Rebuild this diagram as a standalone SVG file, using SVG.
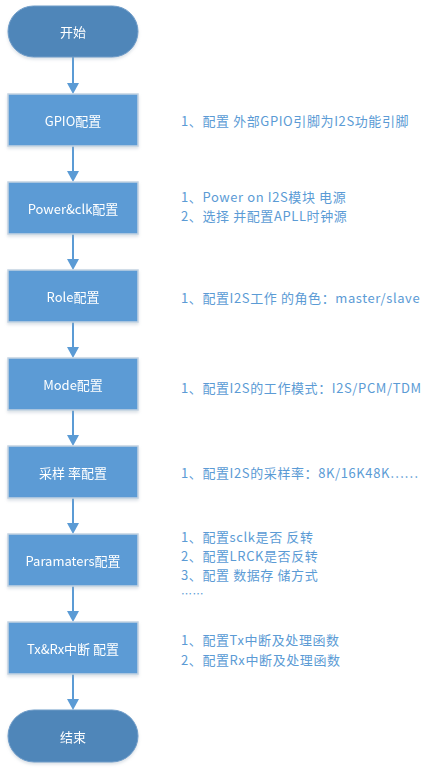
<svg xmlns="http://www.w3.org/2000/svg" width="429" height="776" viewBox="0 0 429 776">
<style>
.term{fill:#4f86b9;stroke:#6f9cc8;stroke-width:1}
.box{fill:#5b9bd5;stroke:#c4d3e2;stroke-width:1.5}
.lbl{font-family:"Noto Sans CJK SC","Liberation Sans",sans-serif;font-size:13px;fill:#ffffff;text-anchor:middle;dominant-baseline:central}
.desc{font-family:"Noto Sans CJK SC","Liberation Sans",sans-serif;font-size:13px;letter-spacing:0.6px;fill:#5b9bd5;dominant-baseline:central}
.conn{stroke:#5b9bd5;stroke-width:2;fill:none}
.ah{fill:#5b9bd5}
</style>
<defs>
<filter id="sh" x="-10%" y="-10%" width="120%" height="130%">
<feDropShadow dx="0" dy="2" stdDeviation="1.5" flood-color="#9ab" flood-opacity="0.35"/>
</filter>
</defs>
<g id="connectors">
<path class="conn" d="M73,57 V84"/><path class="ah" d="M67,83 H79 L73,94 Z"/>
<path class="conn" d="M73,146 V172"/><path class="ah" d="M67,171 H79 L73,182 Z"/>
<path class="conn" d="M73,234 V260"/><path class="ah" d="M67,259 H79 L73,270 Z"/>
<path class="conn" d="M73,322 V348"/><path class="ah" d="M67,347 H79 L73,358 Z"/>
<path class="conn" d="M73,410 V436"/><path class="ah" d="M67,435 H79 L73,446 Z"/>
<path class="conn" d="M73,498 V524"/><path class="ah" d="M67,523 H79 L73,534 Z"/>
<path class="conn" d="M73,586 V612"/><path class="ah" d="M67,611 H79 L73,622 Z"/>
<path class="conn" d="M73,674 V700"/><path class="ah" d="M67,699 H79 L73,710 Z"/>
</g>
<g id="start" filter="url(#sh)"><rect class="term" x="8" y="6" width="130" height="51" rx="25.5"/><text class="lbl" x="73" y="31.5">开始</text></g>
<g id="gpio" filter="url(#sh)"><rect class="box" x="8" y="94" width="130" height="52"/><text class="lbl" x="73" y="120">GPIO配置</text></g>
<g id="power" filter="url(#sh)"><rect class="box" x="8" y="182" width="130" height="52"/><text class="lbl" x="73" y="208">Power&amp;clk配置</text></g>
<g id="role" filter="url(#sh)"><rect class="box" x="8" y="270" width="130" height="52"/><text class="lbl" x="73" y="296">Role配置</text></g>
<g id="mode" filter="url(#sh)"><rect class="box" x="8" y="358" width="130" height="52"/><text class="lbl" x="73" y="384">Mode配置</text></g>
<g id="rate" filter="url(#sh)"><rect class="box" x="8" y="446" width="130" height="52"/><text class="lbl" x="73" y="472">采样 率配置</text></g>
<g id="params" filter="url(#sh)"><rect class="box" x="8" y="534" width="130" height="52"/><text class="lbl" x="73" y="560">Paramaters配置</text></g>
<g id="irq" filter="url(#sh)"><rect class="box" x="8" y="622" width="130" height="52"/><text class="lbl" x="73" y="648">Tx&amp;Rx中断 配置</text></g>
<g id="end" filter="url(#sh)"><rect class="term" x="8" y="710" width="130" height="52" rx="26"/><text class="lbl" x="73" y="736">结束</text></g>
<g id="notes">
<text class="desc" x="181" y="120">1、配置 外部GPIO引脚为I2S功能引脚</text>
<text class="desc" x="181" y="196">1、Power on I2S模块 电源</text>
<text class="desc" x="181" y="215">2、选择 并配置APLL时钟源</text>
<text class="desc" x="181" y="297">1、配置I2S工作 的角色：master/slave</text>
<text class="desc" x="181" y="387">1、配置I2S的工作模式：I2S/PCM/TDM</text>
<text class="desc" x="181" y="472">1、配置I2S的采样率：8K/16K48K……</text>
<text class="desc" x="181" y="536">1、配置sclk是否 反转</text>
<text class="desc" x="181" y="555">2、配置LRCK是否反转</text>
<text class="desc" x="181" y="574">3、配置 数据存 储方式</text>
<text class="desc" x="181" y="593" style="font-size:11px">……</text>
<text class="desc" x="181" y="639">1、配置Tx中断及处理函数</text>
<text class="desc" x="181" y="659">2、配置Rx中断及处理函数</text>
</g>
</svg>
